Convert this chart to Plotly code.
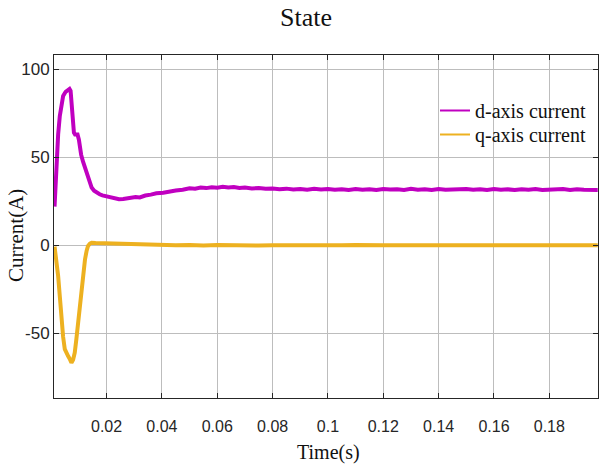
import plotly.graph_objects as go

# ---- data ----
d_time = [0.0012, 0.0016, 0.0019, 0.0025, 0.0031, 0.0037, 0.0043, 0.0052, 0.0061, 0.0066, 0.0070,
          0.0074, 0.0078, 0.0082, 0.0086, 0.0090, 0.0095, 0.0100, 0.0104, 0.0108, 0.0115, 0.0124,
          0.0133, 0.0140, 0.0146, 0.0155, 0.0164, 0.0175, 0.0185, 0.0195, 0.0206, 0.0218, 0.0230,
          0.0245, 0.0260, 0.0275, 0.0290, 0.0305, 0.0320, 0.0340, 0.0360, 0.0380, 0.0405, 0.0425,
          0.0450, 0.0475, 0.0500, 0.0520, 0.0540, 0.0560, 0.0580, 0.0600, 0.0620, 0.0640, 0.0660,
          0.0680, 0.0700, 0.0725, 0.0750, 0.0775, 0.0800, 0.0825, 0.0850, 0.0875, 0.0900, 0.0925,
          0.0950, 0.0975, 0.1000, 0.1025, 0.1050, 0.1075, 0.1100, 0.1125, 0.1150, 0.1175, 0.1200,
          0.1225, 0.1250, 0.1275, 0.1300, 0.1325, 0.1350, 0.1375, 0.1400, 0.1425, 0.1450, 0.1475,
          0.1500, 0.1525, 0.1550, 0.1575, 0.1600, 0.1625, 0.1650, 0.1675, 0.1700, 0.1725, 0.1750,
          0.1775, 0.1800, 0.1825, 0.1850, 0.1875, 0.1900, 0.1925, 0.1950, 0.1975]
d_current = [22.0, 36.0, 49.0, 63.0, 73.5, 80.5, 84.8, 87.2, 88.6, 88.8, 87.7,
             80.0, 70.0, 64.0, 63.0, 63.2, 63.0, 60.0, 55.0, 51.5, 47.5, 43.0,
             39.0, 35.5, 32.8, 31.0, 29.9, 29.0, 28.4, 28.0, 27.6, 27.0, 26.6,
             26.2, 26.3, 26.7, 27.0, 27.4, 27.2, 28.3, 28.8, 29.6, 29.9, 30.6,
             31.1, 31.6, 32.4, 32.2, 32.8, 32.5, 33.0, 32.7, 33.2, 32.8, 33.1,
             32.6, 32.8, 32.3, 32.6, 32.1, 32.3, 31.8, 32.2, 31.7, 32.0, 31.6,
             32.1, 31.7, 32.0, 31.6, 31.9, 31.5, 32.0, 31.6, 31.9, 31.5, 32.0,
             31.7, 31.9, 31.5, 32.1, 31.6, 31.9, 31.5, 32.0, 31.6, 31.8, 31.5,
             32.0, 31.6, 31.9, 31.5, 32.0, 31.6, 31.8, 31.4, 31.9, 31.6, 32.0,
             31.5, 31.8, 31.6, 32.0, 31.5, 31.9, 31.6, 31.8, 31.5]

q_time = [0.0012, 0.0018, 0.0025, 0.0031, 0.0037, 0.0043, 0.0049, 0.0055, 0.0061, 0.0067, 0.0073,
          0.0079, 0.0085, 0.0091, 0.0097, 0.0103, 0.0110, 0.0116, 0.0122, 0.0128, 0.0133, 0.0140,
          0.0146, 0.0160, 0.0180, 0.0200, 0.0236, 0.0270, 0.0300, 0.0357, 0.0400, 0.0450, 0.0500,
          0.0550, 0.0600, 0.0650, 0.0700, 0.0750, 0.0800, 0.0850, 0.0900, 0.0950, 0.1000, 0.1050,
          0.1100, 0.1150, 0.1200, 0.1250, 0.1300, 0.1350, 0.1400, 0.1450, 0.1500, 0.1550, 0.1600,
          0.1650, 0.1700, 0.1750, 0.1800, 0.1850, 0.1900, 0.1950, 0.1975]
q_current = [-0.7, -8.0, -17.4, -29.0, -42.0, -52.0, -59.0, -61.5, -62.9, -64.5, -66.7,
             -65.0, -61.0, -53.0, -43.9, -35.0, -26.9, -17.0, -8.0, -3.0, -0.4, 1.0,
             1.5, 1.3, 1.2, 1.0, 1.1, 0.8, 0.7, 0.6, 0.3, 0.1, 0.2,
             -0.1, 0.2, 0.0, 0.2, -0.1, 0.1, 0.0, 0.2, -0.1, 0.1, 0.0,
             0.2, -0.1, 0.1, 0.0, 0.2, -0.1, 0.1, 0.0, 0.2, -0.1, 0.1,
             0.0, 0.2, -0.1, 0.1, 0.0, 0.2, -0.1, 0.1]

x_ticks = [0.02, 0.04, 0.06, 0.08, 0.1, 0.12, 0.14, 0.16, 0.18]
x_tick_labels = ["0.02", "0.04", "0.06", "0.08", "0.1", "0.12", "0.14", "0.16", "0.18"]
y_ticks = [-50, 0, 50, 100]
y_tick_labels = ["-50", "0", "50", "100"]

series_names = ["d-axis current", "q-axis current"]
colors = ["#C000C0", "#EDB120"]

SERIF = "Liberation Serif, Times New Roman, serif"
SANS = "Liberation Sans, Arial, sans-serif"

fig = go.Figure()
# data lines (thick)
fig.add_trace(go.Scatter(x=d_time, y=d_current, mode="lines", name=series_names[0],
                         line=dict(color=colors[0], width=4), showlegend=False))
fig.add_trace(go.Scatter(x=q_time, y=q_current, mode="lines", name=series_names[1],
                         line=dict(color=colors[1], width=4), showlegend=False))
# legend entries (thin sample lines, as in the reference)
fig.add_trace(go.Scatter(x=[None], y=[None], mode="lines", name=series_names[0],
                         line=dict(color=colors[0], width=2), legend="legend"))
fig.add_trace(go.Scatter(x=[None], y=[None], mode="lines", name=series_names[1],
                         line=dict(color=colors[1], width=2), legend="legend2"))

axis_common = dict(
    showline=True, linecolor="#262626", linewidth=1, mirror="ticks",
    ticks="inside", ticklen=5, tickcolor="#262626", tickwidth=1,
    showgrid=True, gridcolor="#BDBDBD", gridwidth=1, zeroline=False,
)

def py(pix):
    # pixel row -> paper y
    return 1 - (pix - 55) / 343

def px(pix):
    return (pix - 54) / 544

legend_common = dict(xanchor="left", yanchor="middle", bgcolor="rgba(0,0,0,0)", borderwidth=0,
                     font=dict(family=SERIF, size=20, color="#111111"))

fig.update_layout(
    width=599, height=466,
    margin=dict(l=54, r=1, t=55, b=68),
    plot_bgcolor="white", paper_bgcolor="white",
    showlegend=True,
    legend=dict(x=px(435), y=py(110.5), **legend_common),
    legend2=dict(x=px(435), y=py(134.5), **legend_common),
    xaxis=dict(range=[0.001, 0.1976], tickvals=x_ticks, ticktext=x_tick_labels,
               tickfont=dict(family=SANS, size=16, color="#262626"), ticklabelstandoff=14,
               **axis_common),
    yaxis=dict(range=[-86.7, 108.1], tickvals=y_ticks, ticktext=y_tick_labels,
               tickfont=dict(family=SANS, size=17, color="#262626"),
               **axis_common),
    annotations=[
        dict(text="State", xref="paper", yref="paper", x=px(306), y=py(18),
             xanchor="center", yanchor="middle", showarrow=False,
             font=dict(family=SERIF, size=26, color="#111111")),
        dict(text="Time(s)", xref="paper", yref="paper", x=px(328), y=py(452),
             xanchor="center", yanchor="middle", showarrow=False,
             font=dict(family=SERIF, size=20, color="#111111")),
        dict(text="Current(A)", xref="paper", yref="paper", x=px(16), y=py(236),
             xanchor="center", yanchor="middle", showarrow=False, textangle=-90,
             font=dict(family=SERIF, size=21, color="#111111")),
    ],
)

fig.write_html("out.html")
